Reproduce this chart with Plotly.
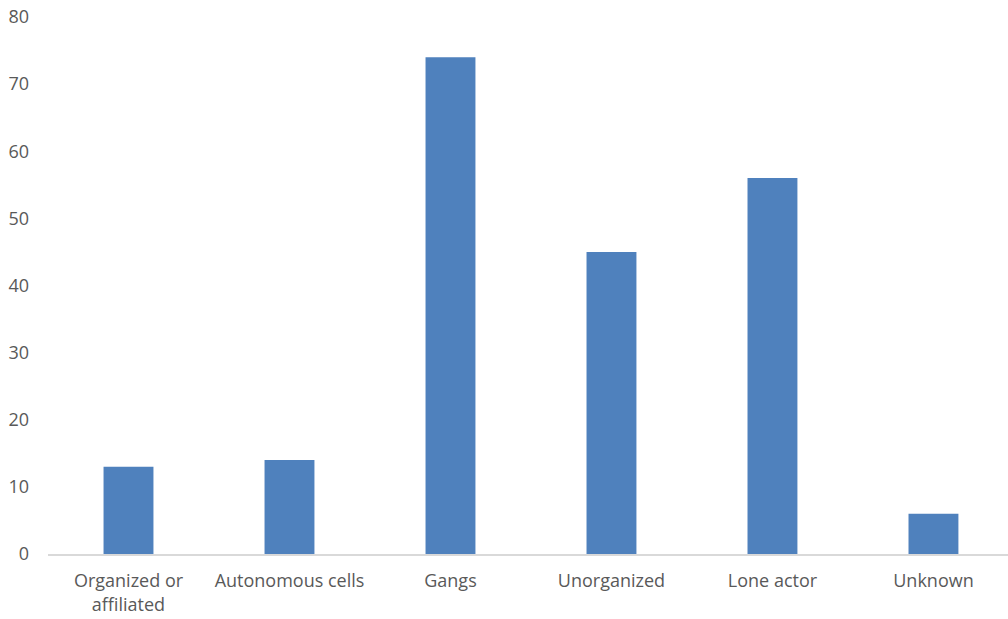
import plotly.graph_objects as go

categories = ["Organized or<br>affiliated", "Autonomous cells", "Gangs", "Unorganized", "Lone actor", "Unknown"]
values = [13, 14, 74, 45, 56, 6]
y_ticks = [0, 10, 20, 30, 40, 50, 60, 70, 80]

fig = go.Figure(go.Bar(x=categories, y=values, marker_color="#4F81BD", marker_line_width=0))

fig.update_layout(
    width=1008, height=619,
    margin=dict(l=48, r=0, t=17, b=65),
    paper_bgcolor="white", plot_bgcolor="white",
    bargap=0.69,
    font=dict(family="Open Sans", size=18, color="#595959"),
    showlegend=False,
)
fig.update_xaxes(
    type="category", range=[-0.5, 5.463],
    showline=True, linecolor="#d9d9d9", linewidth=1.5,
    showgrid=False, ticks="", ticklabelstandoff=10,
)
fig.update_yaxes(
    range=[0, 80], tickvals=y_ticks, showgrid=False, zeroline=False,
    showline=False, ticks="", ticklabelstandoff=18,
)
fig.write_html("out.html")
